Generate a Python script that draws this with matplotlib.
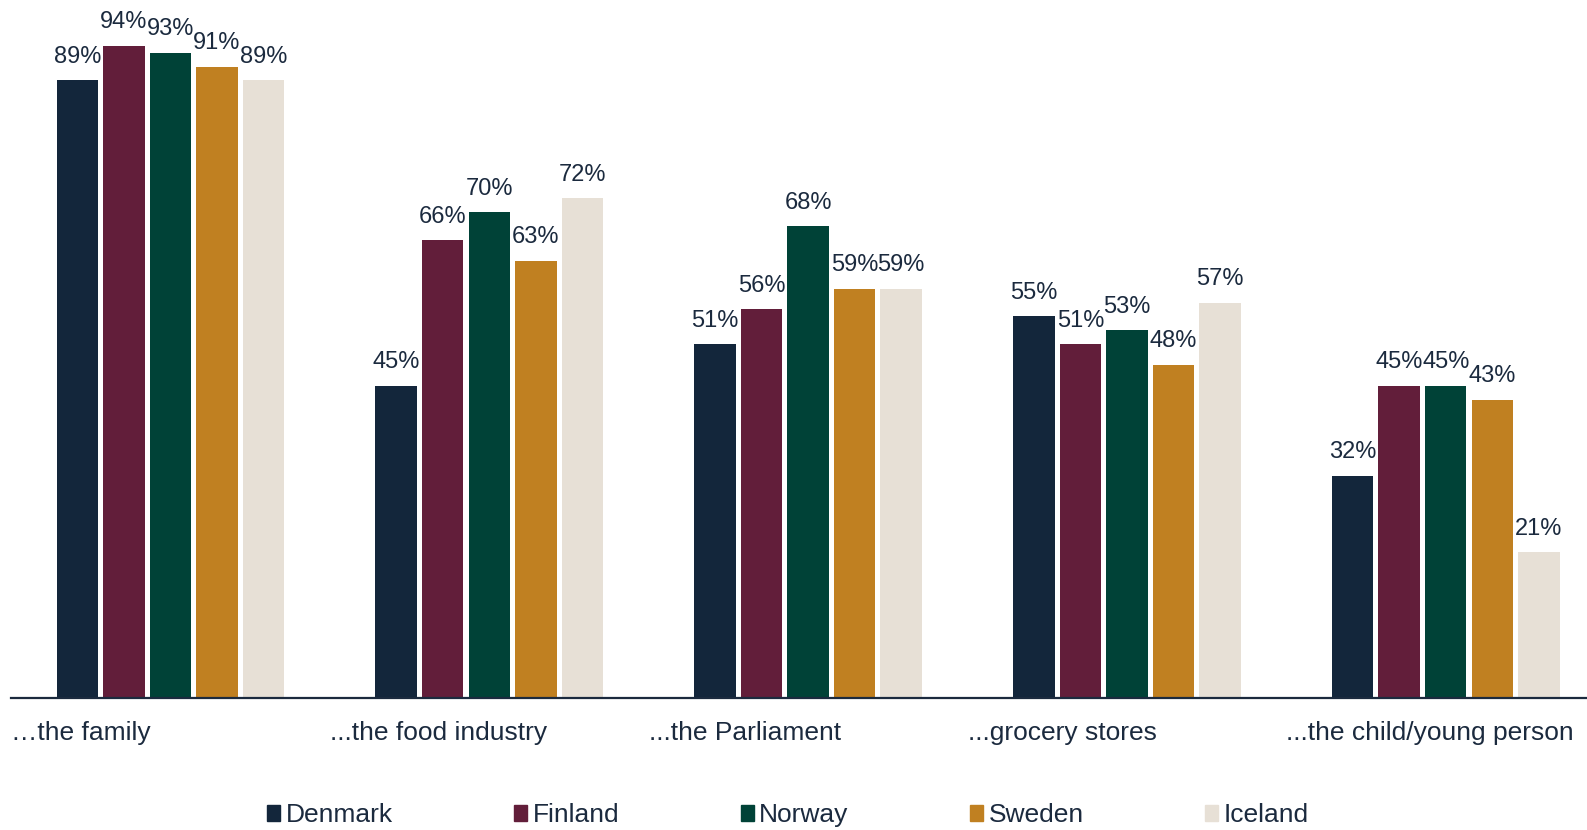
import matplotlib.pyplot as plt
import numpy as np
from matplotlib.patches import Patch

plt.rcParams["font.family"] = ["Liberation Sans", "DejaVu Sans"]

# Data
categories = ["\u2026the family", "...the food industry", "...the Parliament",
              "...grocery stores", "...the child/young person"]
countries = ["Denmark", "Finland", "Norway", "Sweden", "Iceland"]
denmark = [89, 45, 51, 55, 32]
finland = [94, 66, 56, 51, 45]
norway = [93, 70, 68, 53, 45]
sweden = [91, 63, 59, 48, 43]
iceland = [89, 72, 59, 57, 21]
series = [denmark, finland, norway, sweden, iceland]
colors = ["#13263B", "#621E3A", "#004237", "#C08021", "#E7E0D6"]
text_color = "#1B2A3E"
fs = 19

fig = plt.figure(figsize=(15.87, 8.30), dpi=100)
ax = fig.add_axes([0.007, 0.159, 0.993, 0.836])

x = np.arange(len(categories))
width = 0.130
step = 0.146
for i, (vals, col, name) in enumerate(zip(series, colors, countries)):
    pos = x + (i - 2) * step
    bars = ax.bar(pos, vals, width=width, color=col, label=name)
    for b, v in zip(bars, vals):
        ax.annotate(f"{v}%", (b.get_x() + b.get_width() / 2, v),
                    xytext=(0, 9), textcoords="offset points",
                    ha="center", va="bottom", fontsize=17, color=text_color)

ax.set_ylim(0, 100)
ax.set_xlim(-0.5, (1587 - 11.1) / 318.8 - 0.5)
ax.set_yticks([])
ax.set_xticks(x - 0.5)
ax.set_xticklabels(categories, ha="left", fontsize=fs, color=text_color)
ax.tick_params(axis="x", length=0, pad=16.5)
for s in ["top", "right", "left"]:
    ax.spines[s].set_visible(False)
ax.spines["bottom"].set_color(text_color)
ax.spines["bottom"].set_linewidth(1.6)

handles = [Patch(color=c, label=n) for c, n in zip(colors, countries)]
fig.legend(handles=handles, loc="lower center", bbox_to_anchor=(0.4965, 0.0),
           ncol=5, frameon=False, fontsize=fs, labelcolor=text_color,
           handlelength=0.5, handleheight=0.5, handletextpad=0.2,
           columnspacing=4.6, borderpad=0, borderaxespad=0.1)

fig.savefig("out.png", dpi=100)
